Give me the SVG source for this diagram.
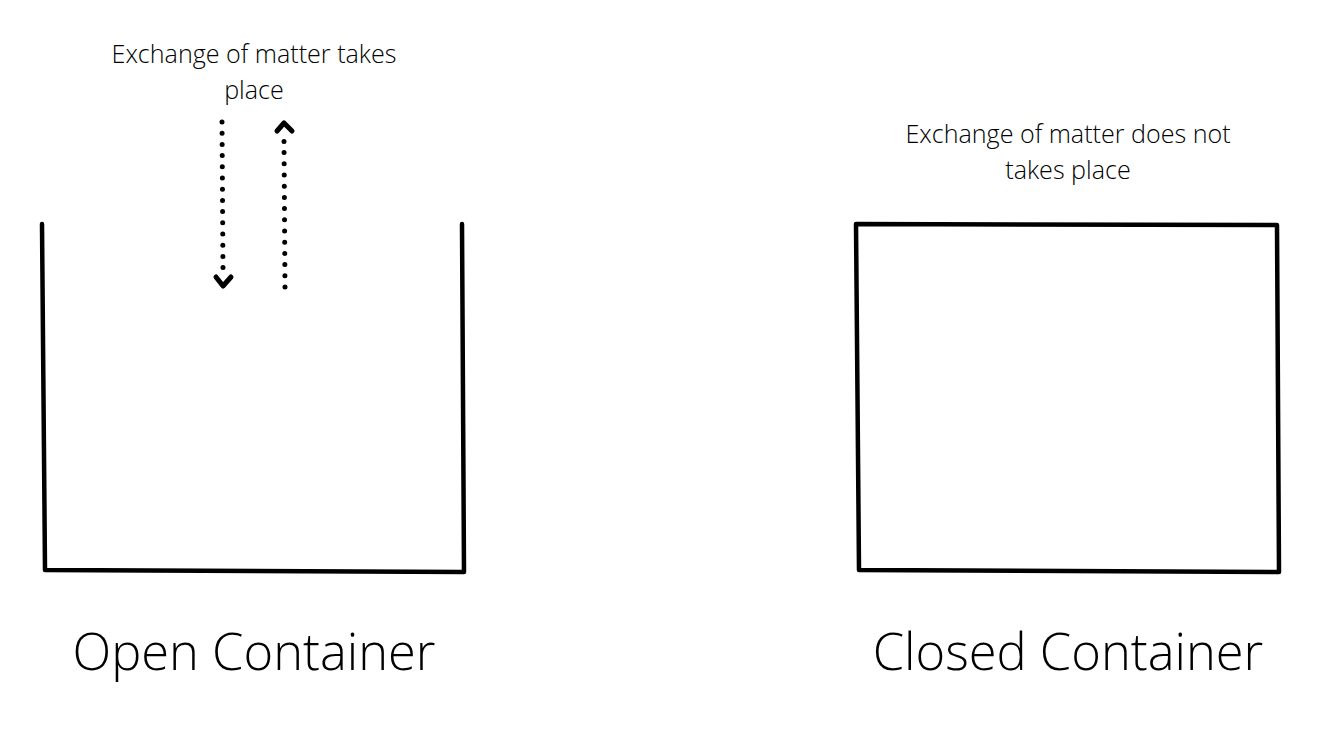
<svg xmlns="http://www.w3.org/2000/svg" width="1340" height="736" viewBox="0 0 1340 736">
<style>
.t{font-family:"Open Sans","Liberation Sans",sans-serif;font-weight:300;fill:#000;text-anchor:middle}
.s{font-size:25.1px}
.b{font-size:50.6px}
.line{fill:none;stroke:#000;stroke-width:4.5;stroke-linejoin:round;stroke-linecap:round}
.dot{fill:none;stroke:#000;stroke-width:5;stroke-linecap:round;stroke-dasharray:0 11.2}
.chev{fill:none;stroke:#000;stroke-width:5;stroke-linecap:round;stroke-linejoin:round}
</style>
<rect width="1340" height="736" fill="#fff"/>
<g id="open-container">
<path class="line" d="M42,224 L45,570 L464,572 L462,224"/>
<text class="t b" x="254" y="670">Open Container</text>
</g>
<g id="open-label">
<text class="t s" x="254" y="63">Exchange of matter takes</text>
<text class="t s" x="254" y="99">place</text>
</g>
<g id="closed-container">
<path class="line" d="M856,224 L1277,225 L1279,572 L859,570 Z"/>
<text class="t b" x="1068" y="670">Closed Container</text>
</g>
<g id="closed-label">
<text class="t s" x="1068" y="143">Exchange of matter does not</text>
<text class="t s" x="1068" y="179">takes place</text>
</g>
<g id="connectors">
<path class="dot" d="M222,122 L223,270"/>
<path class="chev" d="M216,277 L223,286 L231,277"/>
<path class="dot" d="M285,287 L284,140"/>
<path class="chev" d="M277,131 L284,123 L292,131"/>
</g>
</svg>
